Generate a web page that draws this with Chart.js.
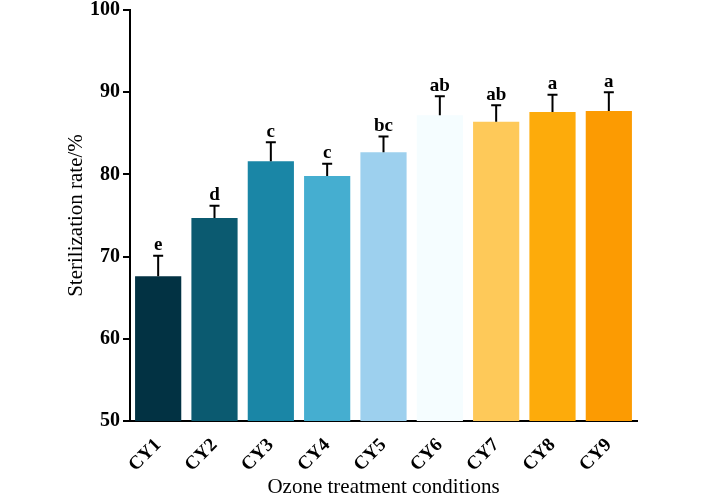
<!DOCTYPE html>
<html>
<head>
<meta charset="utf-8">
<script src="https://cdn.jsdelivr.net/npm/chart.js@4/dist/chart.umd.min.js"></script>
<style>
  html, body { margin: 0; padding: 0; background: #fff; }
  #wrap { width: 706px; height: 497px; }
</style>
</head>
<body>
<div id="wrap"><canvas id="sterilizationChart"></canvas></div>
<script>
const categories = ["CY1", "CY2", "CY3", "CY4", "CY5", "CY6", "CY7", "CY8", "CY9"];
const rates = [67.6, 74.7, 81.6, 79.8, 82.7, 87.2, 86.4, 87.6, 87.7];
const errors = [2.5, 1.5, 2.3, 1.5, 1.9, 2.3, 2.0, 2.1, 2.3];
const letters = ["e", "d", "c", "c", "bc", "ab", "ab", "a", "a"];
const barColors = ["#023243", "#0b5a70", "#1a86a6", "#45aed0", "#9dd0ee", "#f5fdff", "#fec959", "#fdab0b", "#fc9b02"];

const serif = "'Liberation Serif', 'Times New Roman', serif";

// error bars and significance letters
const errorBarPlugin = {
    id: "errorBars",
    afterDatasetsDraw(chart) {
        const ctx = chart.ctx;
        const meta = chart.getDatasetMeta(0);
        const yScale = chart.scales.y;
        ctx.save();
        ctx.strokeStyle = "#000";
        ctx.lineWidth = 2;
        ctx.fillStyle = "#000";
        ctx.font = "bold 19px " + serif;
        ctx.textAlign = "center";
        ctx.textBaseline = "bottom";
        meta.data.forEach((bar, i) => {
            const x = bar.x;
            const yTop = yScale.getPixelForValue(rates[i] + errors[i]);
            ctx.beginPath();
            ctx.moveTo(x, bar.y);
            ctx.lineTo(x, yTop);
            ctx.moveTo(x - 5, yTop);
            ctx.lineTo(x + 5, yTop);
            ctx.stroke();
            ctx.fillText(letters[i], x, yTop - 1);
        });
        ctx.restore();
    }
};

const ctx = document.getElementById("sterilizationChart");

new Chart(ctx, {
    type: "bar",
    data: {
        labels: categories,
        datasets: [{
            data: rates,
            backgroundColor: barColors,
            borderWidth: 0,
            barPercentage: 0.82,
            categoryPercentage: 1.0
        }]
    },
    options: {
        responsive: true,
        maintainAspectRatio: false,
        animation: false,
        layout: { padding: { top: 0, right: 69, left: 64, bottom: -3 } },
        plugins: {
            legend: { display: false },
            tooltip: { enabled: false }
        },
        scales: {
            x: {
                grid: { display: false, drawTicks: false },
                border: { color: "#000", width: 2 },
                ticks: {
                    color: "#000",
                    font: { family: serif, size: 19, weight: "bold" },
                    minRotation: 45,
                    maxRotation: 45,
                    padding: 13
                },
                title: {
                    display: true,
                    text: "Ozone treatment conditions",
                    color: "#000",
                    font: { family: serif, size: 21 },
                    padding: { top: 0, bottom: 0 }
                },
                afterFit(scale) { scale.height = 79; }
            },
            y: {
                min: 50,
                max: 100,
                grid: { drawOnChartArea: false, drawTicks: true, tickLength: 7, color: "#000", lineWidth: 2 },
                border: { color: "#000", width: 2 },
                ticks: {
                    stepSize: 10,
                    color: "#000",
                    font: { family: serif, size: 20, weight: "bold" },
                    padding: 3
                },
                title: {
                    display: true,
                    text: "Sterilization rate/%",
                    color: "#000",
                    font: { family: serif, size: 21 },
                    padding: { top: 0, bottom: 0 }
                },
                afterFit(scale) {
                    scale.width = 66;
                    scale.paddingTop = 10;
                }
            }
        }
    },
    plugins: [errorBarPlugin]
});
</script>
</body>
</html>
